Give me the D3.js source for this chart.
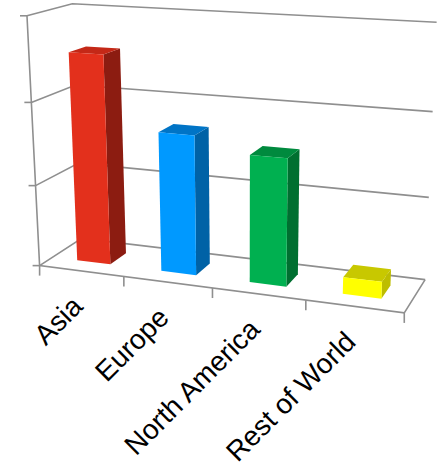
<!DOCTYPE html>
<html><head><meta charset="utf-8">
<script src="https://cdn.jsdelivr.net/npm/d3@7"></script>
<style>html,body{margin:0;padding:0;background:#fff;}svg{display:block}</style>
</head><body>
<script>
// ---- data ----
const categories = ["Asia", "Europe", "North America", "Rest of World"];
const values = [2.55, 1.69, 1.52, 0.2];
const valueTicks = [0, 1, 2, 3];
const frontColors = ["#E3301C", "#0099FF", "#00B050", "#FFFF00"];
const topColors = ["#C42817", "#0074C6", "#008A3E", "#C8C800"];
const sideColors = ["#8C1C11", "#0062A6", "#006F30", "#BDBD00"];

// ---- layout ----
const W = 444, H = 469;
const svg = d3.select("body").append("svg").attr("width", W).attr("height", H);

// world space: X = category axis (0..4), Y = value (0..3), Z = depth (0..1)
const xs = d3.scaleBand().domain(categories).range([0, 4]).paddingInner(0.6).paddingOuter(0.3);
const ys = d3.scaleLinear().domain([0, 3]).range([0, 3]);
const zs = d3.scaleLinear().domain([0, 1]).range([0.3, 0.7]); // bar depth extent

// camera calibration: world frame corners -> screen (perspective view of the plot box)
const calib = [
  [[0,0,0],[39.5,266]], [[0,3,0],[27.3,16.3]], [[0,2,0],[31.5,102]], [[0,1,0],[35,185.5]],
  [[0,3,1],[71.7,4]], [[0,2,1],[75,84.5]], [[0,1,1],[80,163]],
  [[4,3,1],[436.5,22.7]], [[4,2,1],[433.5,111]], [[4,1,1],[428.5,197]],
  [[4,0,1],[424.5,280.5]], [[4,0,0],[404.5,312.5]]
];
function solveCamera(pts) {
  const A = [], b = [];
  pts.forEach(([[X,Y,Z],[u,v]]) => {
    A.push([X,Y,Z,1,0,0,0,0,-u*X,-u*Y,-u*Z]); b.push(u);
    A.push([0,0,0,0,X,Y,Z,1,-v*X,-v*Y,-v*Z]); b.push(v);
  });
  const n = 11;
  const M = Array.from({length:n}, (_, i) => {
    const row = new Array(n+1).fill(0);
    for (let j = 0; j < n; j++) for (let k = 0; k < A.length; k++) row[j] += A[k][i]*A[k][j];
    for (let k = 0; k < A.length; k++) row[n] += A[k][i]*b[k];
    return row;
  });
  for (let c = 0; c < n; c++) {
    let p = c;
    for (let r = c+1; r < n; r++) if (Math.abs(M[r][c]) > Math.abs(M[p][c])) p = r;
    [M[c], M[p]] = [M[p], M[c]];
    for (let r = 0; r < n; r++) if (r !== c) {
      const f = M[r][c] / M[c][c];
      for (let k = c; k <= n; k++) M[r][k] -= f*M[c][k];
    }
  }
  return M.map((r, i) => r[n] / r[i]);
}
const P = solveCamera(calib);
function proj([X,Y,Z]) {
  const w = P[8]*X + P[9]*Y + P[10]*Z + 1;
  return [(P[0]*X + P[1]*Y + P[2]*Z + P[3]) / w, (P[4]*X + P[5]*Y + P[6]*Z + P[7]) / w];
}
const line = d3.line();
const gridColor = "#8f8f8f";

// walls: gridlines on left wall and back wall
const g = svg.append("g").attr("fill", "none").attr("stroke", gridColor).attr("stroke-width", 1.6);
valueTicks.forEach(t => {
  const Y = ys(t);
  g.append("path").attr("d", line([proj([0,Y,0]), proj([0,Y,1]), proj([4,Y,1])]));
});

// bars
const bars = svg.append("g");
categories.forEach((c, i) => {
  const x0 = xs(c), x1 = x0 + xs.bandwidth();
  const z0 = zs(0), z1 = zs(1);
  const h = ys(values[i]);
  const front = [[x0,0,z0],[x1,0,z0],[x1,h,z0],[x0,h,z0]].map(proj);
  const side = [[x1,0,z0],[x1,0,z1],[x1,h,z1],[x1,h,z0]].map(proj);
  const top = [[x0,h,z0],[x1,h,z0],[x1,h,z1],[x0,h,z1]].map(proj);
  bars.append("path").attr("d", line(side) + "Z").attr("fill", sideColors[i]);
  bars.append("path").attr("d", line(top) + "Z").attr("fill", topColors[i]);
  bars.append("path").attr("d", line(front) + "Z").attr("fill", frontColors[i]);
});

// axes
const ax = svg.append("g").attr("fill", "none").attr("stroke", gridColor).attr("stroke-width", 1.6);
ax.append("path").attr("d", line([proj([0,ys(3),0]), proj([0,0,0]), proj([4,0,0]), proj([4,0,1])]));
valueTicks.forEach(t => {
  const p = proj([0, ys(t), 0]);
  ax.append("path").attr("d", line([[p[0]-7, p[1]], p]));
});
d3.range(0, 5).forEach(k => {
  const p = proj([k, 0, 0]);
  ax.append("path").attr("d", line([p, [p[0], p[1]+10]]));
});

// category labels
const lab = svg.append("g").attr("font-family", "'Liberation Sans', Arial, sans-serif")
  .attr("font-size", 28).attr("fill", "#000").attr("text-anchor", "end");
categories.forEach(c => {
  const p = proj([xs(c) + xs.bandwidth()/2, 0, 0]);
  lab.append("text").attr("transform", `translate(${p[0]+3},${p[1]+37}) rotate(-45)`).text(c);
});
</script>
</body></html>
